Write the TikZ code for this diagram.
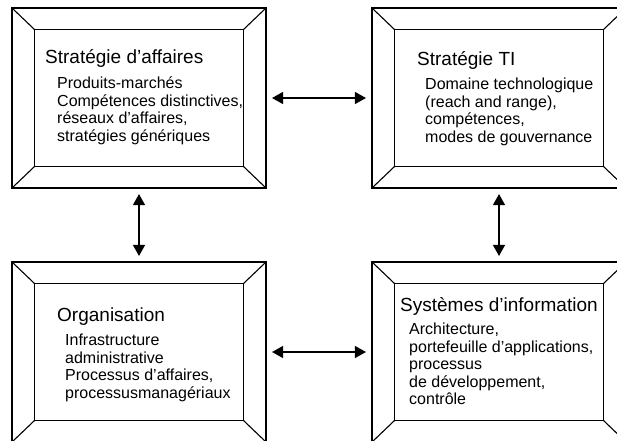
\documentclass[tikz,border=0pt]{standalone}
\usepackage{fontspec}
\setmainfont{Liberation Sans}
\usetikzlibrary{arrows.meta, positioning}

\begin{document}
\begin{tikzpicture}[
    x=1pt, y=-1pt,
    frame/.style={rectangle, draw, line width=1.1pt, minimum width=254pt, minimum height=180pt, inner sep=0pt},
    bevel/.style={line width=1.1pt},
    title/.style={anchor=base west, inner sep=0pt, font=\fontsize{19}{22}\selectfont},
    body/.style={anchor=north west, inner sep=0pt, align=left, font=\fontsize{16}{17.5}\selectfont},
    link/.style={line width=1.2pt, {Triangle[length=11pt, width=12pt]}-{Triangle[length=11pt, width=12pt]}, shorten <=5.5pt, shorten >=5.5pt},
]
\useasboundingbox (0,0) rectangle (617,440);

% Outer frames
\node[frame] (strat) at (139,98) {};
\node[frame] (ti) at (499,98) {};
\node[frame] (org) at (139,352) {};
\node[frame] (si) at (499,352) {};

% Inner panels and corner bevels
\foreach \b in {strat,ti,org,si} {
    \coordinate (\b-nw) at ([shift={(23,22)}]\b.north west);
    \coordinate (\b-ne) at ([shift={(-23,22)}]\b.north east);
    \coordinate (\b-sw) at ([shift={(23,-22)}]\b.south west);
    \coordinate (\b-se) at ([shift={(-23,-22)}]\b.south east);
    \draw[bevel] (\b-nw) rectangle (\b-se);
    \draw[bevel] (\b.north west) -- (\b-nw);
    \draw[bevel] (\b.north east) -- (\b-ne);
    \draw[bevel] (\b.south west) -- (\b-sw);
    \draw[bevel] (\b.south east) -- (\b-se);
}

% Titles and contents
\node[title] (strat-t) at (45,63) {Stratégie d’affaires};
\node[body] (strat-b) at (57,77) {Produits-marchés\\Compétences distinctives,\\réseaux d’affaires,\\stratégies génériques};

\node[title] (ti-t) at (417,65) {Stratégie TI};
\node[body] (ti-b) at (425,78) {Domaine technologique\\(reach and range),\\compétences,\\modes de gouvernance};

\node[title] (org-t) at (57,321) {Organisation};
\node[body] (org-b) at (65,334) {Infrastructure\\administrative\\Processus d’affaires,\\processusmanagériaux};

\node[title] (si-t) at (400,311) {Systèmes d’information};
\node[body] (si-b) at (409,323) {Architecture,\\portefeuille d’applications,\\processus\\de développement,\\contrôle};

% Links between the four blocks
\draw[link] (strat) -- (ti);
\draw[link] (org) -- (si);
\draw[link] (strat) -- (org);
\draw[link] (ti) -- (si);

\end{tikzpicture}
\end{document}
